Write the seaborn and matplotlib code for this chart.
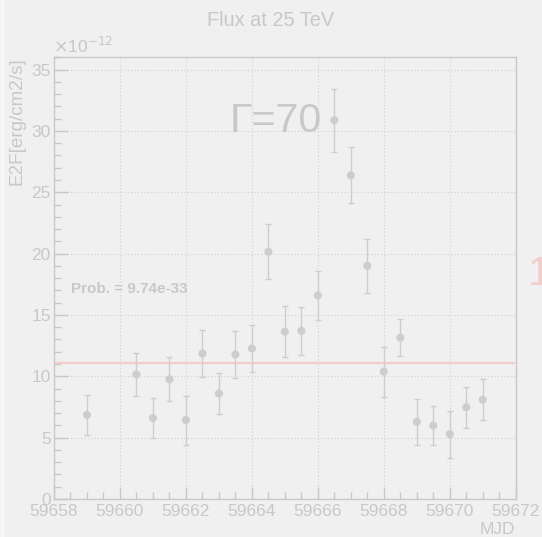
import matplotlib
matplotlib.use("Agg")
import matplotlib.pyplot as plt
from matplotlib.ticker import MultipleLocator
import numpy as np
import pandas as pd
import seaborn as sns

# Light-curve points: MJD, flux (units of 1e-12 erg/cm2/s) and symmetric errors
mjd = [59659.0, 59660.5, 59661.0, 59661.5, 59662.0, 59662.5, 59663.0, 59663.5,
       59664.0, 59664.5, 59665.0, 59665.5, 59666.0, 59666.5, 59667.0, 59667.5,
       59668.0, 59668.5, 59669.0, 59669.5, 59670.0, 59670.5, 59671.0]
flux = [6.85, 10.15, 6.6, 9.75, 6.43, 11.85, 8.6, 11.77,
        12.27, 20.15, 13.64, 13.7, 16.6, 30.87, 26.38, 19.0,
        10.38, 13.15, 6.28, 5.98, 5.28, 7.48, 8.09]
flux_err = [1.65, 1.75, 1.65, 1.8, 2.0, 1.9, 1.65, 1.9,
            1.9, 2.25, 2.08, 1.95, 2.0, 2.55, 2.28, 2.2,
            2.03, 1.53, 1.9, 1.6, 1.9, 1.66, 1.65]

# Constant-flux fit
fit_const = 11.11
fit_prob = "9.74e-33"
gamma_label = "\u0393=70"

title = "Flux at 25 TeV"
x_label = "MJD"
y_label = "E2F[erg/cm2/s]"

df = pd.DataFrame({"mjd": mjd, "flux": flux, "err": flux_err})

sns.set_style("ticks")
plt.rcParams["font.family"] = ["Liberation Sans", "DejaVu Sans"]

bg = "#f0f0f0"
grey = "#c8c8c8"
pt_col = "#cdcdcd"
pink = "#f4cccc"

fig = plt.figure(figsize=(5.42, 5.37), dpi=100, facecolor=bg)
ax = fig.add_axes([0.0996, 0.0708, 0.852, 0.8225], facecolor=bg)

# light border stripe on the canvas edge
fig.add_artist(plt.Line2D([0.004, 0.004], [0, 1], transform=fig.transFigure,
                          color="#f9f9f9", lw=2.5))

ax.errorbar(df["mjd"], df["flux"], yerr=df["err"], fmt="none",
            ecolor=pt_col, elinewidth=1.0, capsize=2.3, capthick=1.0, zorder=2)
sns.scatterplot(data=df, x="mjd", y="flux", ax=ax, color=pt_col, s=34,
                edgecolor="none", linewidth=0, zorder=3, legend=False)

ax.axhline(fit_const, xmin=0.004, xmax=0.996, color=pink, lw=1.6, zorder=1.5)

ax.set_xlim(59658, 59672)
ax.set_ylim(0, 36)
ax.xaxis.set_major_locator(MultipleLocator(2))
ax.xaxis.set_minor_locator(MultipleLocator(0.5))
ax.yaxis.set_major_locator(MultipleLocator(5))
ax.yaxis.set_minor_locator(MultipleLocator(1))
ax.xaxis.set_major_formatter(plt.FuncFormatter(lambda v, p: f"{v:.0f}"))
ax.yaxis.set_major_formatter(plt.FuncFormatter(lambda v, p: f"{v:.0f}"))

ax.grid(True, which="major", color="#d0d0d0", linestyle=(0, (1, 2)), lw=0.8)
for s in ax.spines.values():
    s.set_color("#c8c8c8")
    s.set_linewidth(1.0)

ax.tick_params(axis="both", which="both", direction="in", color=grey,
               labelcolor=grey, labelsize=12.5, top=False, right=False)
ax.tick_params(axis="y", which="major", length=10, width=1, pad=2.4)
ax.tick_params(axis="y", which="minor", length=5, width=1)
ax.tick_params(axis="x", which="major", length=8.6, width=1, pad=3.5)
ax.tick_params(axis="x", which="minor", length=5, width=1)
ax.set_xlabel("")
ax.set_ylabel("")

W, H = 542, 537
def fx(px):
    return px / W
def fy(py):
    return 1 - py / H

fig.text(fx(271), fy(20), title, ha="center", va="center", color=grey, fontsize=14.4)
fig.text(fx(515), fy(530), x_label, ha="right", va="center", color=grey, fontsize=12.5)
fig.text(fx(17), fy(57), y_label, ha="center", va="top", rotation=90,
         color=grey, fontsize=13.6)
fig.text(fx(53), fy(46), r"$\times$10$^{-12}$", ha="left", va="center",
         color=grey, fontsize=12.5)
fig.text(fx(230), fy(121), gamma_label, ha="left", va="center", color=grey,
         fontsize=29.5)
fig.text(fx(71), fy(289), f"Prob. = {fit_prob}", ha="left", va="center",
         color=grey, fontsize=11, fontweight="bold")
fig.text(fx(528), fy(285), f"{fit_const * 1e-12:.2e}", ha="left", va="baseline",
         color=pink, fontsize=29.5)

fig.savefig("out.png", dpi=100, facecolor=bg)
